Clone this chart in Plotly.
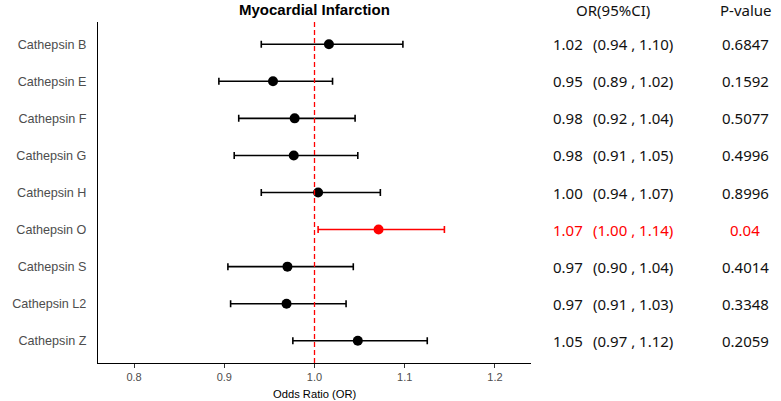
import plotly.graph_objects as go

# ---- data ----
labels = ["Cathepsin B", "Cathepsin E", "Cathepsin F", "Cathepsin G", "Cathepsin H",
          "Cathepsin O", "Cathepsin S", "Cathepsin L2", "Cathepsin Z"]
or_vals = [1.016, 0.954, 0.978, 0.977, 1.004, 1.071, 0.970, 0.969, 1.048]
ci_low = [0.941, 0.894, 0.916, 0.911, 0.941, 1.004, 0.904, 0.907, 0.976]
ci_high = [1.098, 1.020, 1.045, 1.048, 1.073, 1.144, 1.043, 1.035, 1.125]
or_labels = ["1.02", "0.95", "0.98", "0.98", "1.00", "1.07", "0.97", "0.97", "1.05"]
ci_labels = ["(0.94 , 1.10)", "(0.89 , 1.02)", "(0.92 , 1.04)", "(0.91 , 1.05)", "(0.94 , 1.07)",
             "(1.00 , 1.14)", "(0.90 , 1.04)", "(0.91 , 1.03)", "(0.97 , 1.12)"]
p_values = [0.6847, 0.1592, 0.5077, 0.4996, 0.8996, 0.04, 0.4014, 0.3348, 0.2059]
p_labels = ["0.6847", "0.1592", "0.5077", "0.4996", "0.8996", "0.04", "0.4014", "0.3348", "0.2059"]
x_ticks = [0.8, 0.9, 1.0, 1.1, 1.2]
x_tick_labels = ["0.8", "0.9", "1.0", "1.1", "1.2"]
title = "Myocardial Infarction"
x_title = "Odds Ratio (OR)"

# ---- layout geometry (px) ----
W, H = 781, 401
L, R, T, B = 86, 250, 22, 38
PW = W - L - R
PH = H - T - B

def px_x(px):
    return (px - L) / PW

def px_y(py):
    return (H - B - py) / PH

FONT_AX = "Liberation Sans, Arial, sans-serif"
FONT_TXT = "Noto Sans, Open Sans, sans-serif"
RED = "#FF0000"

fig = go.Figure()

for sig, color in [(False, "black"), (True, RED)]:
    idx = [i for i, p in enumerate(p_values) if (p < 0.05) == sig]
    fig.add_trace(go.Scatter(
        x=[or_vals[i] for i in idx],
        y=[labels[i] for i in idx],
        mode="markers",
        marker=dict(color=color, size=10, line=dict(width=0)),
        error_x=dict(type="data", symmetric=False,
                     array=[ci_high[i] - or_vals[i] for i in idx],
                     arrayminus=[or_vals[i] - ci_low[i] for i in idx],
                     color=color, thickness=1.6, width=3.5),
        showlegend=False, hoverinfo="skip",
    ))

fig.add_shape(type="line", x0=1.0, x1=1.0, xref="x", yref="paper", y0=0, y1=1,
              line=dict(color=RED, width=1.3, dash="5px,3px"), layer="above")

ann = []
ann.append(dict(text="<b>" + title + "</b>", x=0.5, y=px_y(9), xref="paper", yref="paper",
                showarrow=False, xanchor="center", yanchor="middle",
                font=dict(family=FONT_AX, size=15, color="black")))
ann.append(dict(text=x_title, x=0.5, y=px_y(394), xref="paper", yref="paper",
                showarrow=False, xanchor="center", yanchor="middle",
                font=dict(family=FONT_AX, size=11.2, color="black")))
ann.append(dict(text="OR(95%CI)", x=px_x(615), y=px_y(10), xref="paper", yref="paper",
                showarrow=False, xanchor="center", yanchor="middle",
                font=dict(family=FONT_TXT, size=15, color="#111111")))
ann.append(dict(text="P-value", x=px_x(752), y=px_y(10), xref="paper", yref="paper",
                showarrow=False, xanchor="center", yanchor="middle",
                font=dict(family=FONT_TXT, size=15, color="#111111")))
for i, lab in enumerate(labels):
    c = RED if p_values[i] < 0.05 else "#111111"
    ann.append(dict(text=or_labels[i], x=px_x(552), y=lab, xref="paper", yref="y",
                    showarrow=False, xanchor="left", yanchor="middle",
                    font=dict(family=FONT_TXT, size=15, color=c)))
    ann.append(dict(text=ci_labels[i], x=px_x(593), y=lab, xref="paper", yref="y",
                    showarrow=False, xanchor="left", yanchor="middle",
                    font=dict(family=FONT_TXT, size=15, color=c)))
    ann.append(dict(text=p_labels[i], x=px_x(751), y=lab, xref="paper", yref="y",
                    showarrow=False, xanchor="center", yanchor="middle",
                    font=dict(family=FONT_TXT, size=15, color=c)))

fig.update_layout(
    width=W, height=H,
    margin=dict(l=L, r=R, t=T, b=B, pad=0),
    paper_bgcolor="white", plot_bgcolor="white",
    annotations=ann,
    xaxis=dict(range=[0.76, 1.24], tickvals=x_ticks, ticktext=x_tick_labels,
               showgrid=False, zeroline=False, showline=True, linecolor="black", linewidth=1.2,
               ticks="outside", ticklen=4, tickwidth=1, tickcolor="#333333",
               tickfont=dict(family=FONT_AX, size=11, color="#4D4D4D")),
    yaxis=dict(type="category", categoryorder="array", categoryarray=labels,
               range=[len(labels) - 0.4, -0.6],
               showgrid=False, zeroline=False, showline=True, linecolor="black", linewidth=1.2,
               ticks="", ticklabelstandoff=8,
               tickfont=dict(family=FONT_AX, size=12.6, color="#4D4D4D")),
)

fig.write_html("out.html", config={"displayModeBar": False},
               post_script="document.body.style.margin='0';document.body.style.overflow='hidden';")
